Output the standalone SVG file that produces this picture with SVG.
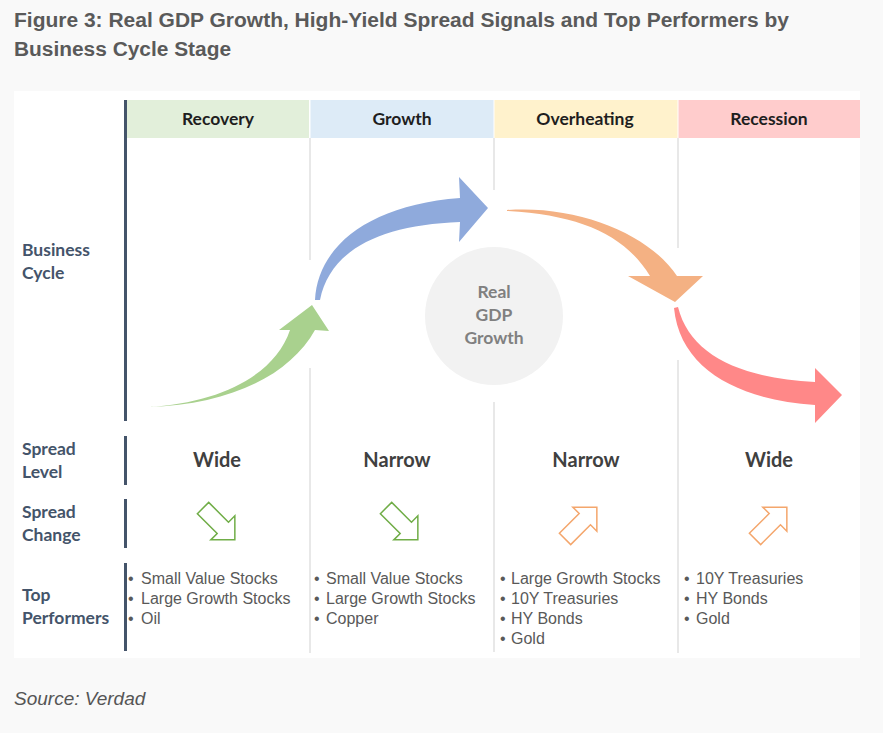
<svg xmlns="http://www.w3.org/2000/svg" width="883" height="733" viewBox="0 0 883 733">
<style>
.title{font-family:"Liberation Sans",Arial,sans-serif;font-weight:bold;font-size:20px;fill:#5a5a5a}
.hdr{font-family:Lato,"Open Sans",sans-serif;font-weight:bold;font-size:17.5px;fill:#1e1e1e;text-anchor:middle}
.row{font-family:Lato,"Open Sans",sans-serif;font-weight:bold;font-size:17.5px;fill:#44546a}
.lvl{font-family:Lato,"Open Sans",sans-serif;font-weight:bold;font-size:20px;fill:#404040;text-anchor:middle}
.gdp{font-family:Lato,"Open Sans",sans-serif;font-weight:bold;font-size:17.5px;fill:#808080;text-anchor:middle}
.item{font-family:"Liberation Sans",Arial,sans-serif;font-size:16px;fill:#595959}
.src{font-family:"Liberation Sans",Arial,sans-serif;font-style:italic;font-size:19px;fill:#555}
.div{stroke:#d9d9d9;stroke-width:1.2;fill:none}
.bar{stroke:#44546a;stroke-width:3;fill:none}
.up{fill:none;stroke:#f4a66c;stroke-width:1.5;stroke-linejoin:miter}
.dn{fill:none;stroke:#70ad47;stroke-width:1.5;stroke-linejoin:miter}
</style>
<defs>
<polygon id="blk" points="-24,-8 4,-8 4,-17 21,0 4,17 4,8 -24,8"/>
</defs>
<rect x="0" y="0" width="883" height="733" fill="#f9f9f9"/>
<text class="title" x="14" y="27" textLength="775" lengthAdjust="spacingAndGlyphs">Figure 3: Real GDP Growth, High-Yield Spread Signals and Top Performers by</text>
<text class="title" x="14" y="56" textLength="217" lengthAdjust="spacingAndGlyphs">Business Cycle Stage</text>
<rect x="14" y="91" width="846" height="567" fill="#ffffff"/>

<g id="headers">
<g id="h-recovery"><rect x="127" y="100" width="182" height="38" fill="#e2efda"/><text class="hdr" x="218" y="125">Recovery</text></g>
<g id="h-growth"><rect x="310.5" y="100" width="183" height="38" fill="#ddebf7"/><text class="hdr" x="402" y="125">Growth</text></g>
<g id="h-overheating"><rect x="494.5" y="100" width="183" height="38" fill="#fff2cc"/><text class="hdr" x="585" y="125">Overheating</text></g>
<g id="h-recession"><rect x="678.5" y="100" width="181.5" height="38" fill="#ffcccc"/><text class="hdr" x="769" y="125">Recession</text></g>
</g>

<g id="grid">
<path class="div" d="M310,138V260M310,368V653M494,138V190M494,402V652M678,138V248M678,360V653"/>
<path class="bar" d="M125.5,100V421M125.5,436V485M125.5,499V548M125.5,563V651"/>
</g>

<g id="row-labels">
<text class="row" x="22" y="256">Business</text><text class="row" x="22" y="279">Cycle</text>
<text class="row" x="22" y="455">Spread</text><text class="row" x="22" y="478">Level</text>
<text class="row" x="22" y="518">Spread</text><text class="row" x="22" y="541">Change</text>
<text class="row" x="22" y="601">Top</text><text class="row" x="22" y="624">Performers</text>
</g>

<g id="gdp">
<circle cx="494" cy="316" r="69" fill="#f2f2f2"/>
<text class="gdp" x="494" y="298">Real</text>
<text class="gdp" x="494" y="321">GDP</text>
<text class="gdp" x="494" y="344">Growth</text>
</g>

<g id="connectors">
<path id="a-recovery" fill="#a9d18e" d="M148,407 C230,405 290,375 315,330 L329,331 L312,305 L279,330 L290,330 C275,375 220,403 148,407 Z"/>
<path id="a-growth" fill="#8faadc" d="M315,300 C318,245 370,205 460,198 L459,177 L488,208 L459,242 L460,222 C380,225 330,250 320,300 Z"/>
<path id="a-overheating" fill="#f4b183" d="M507,210 C580,205 650,235 677,276 L703,276 L675,302 L628,276 L650,276 C625,235 580,215 507,211 Z"/>
<path id="a-recession" fill="#ff8888" d="M674,308 C680,370 740,400 815,405 L815,423 L842,395 L815,368 L815,382 C740,378 690,355 678,307 Z"/>
</g>

<g id="spread-level">
<text class="lvl" x="217" y="467">Wide</text>
<text class="lvl" x="397" y="467">Narrow</text>
<text class="lvl" x="586" y="467">Narrow</text>
<text class="lvl" x="769" y="467">Wide</text>
</g>

<g id="spread-change">
<use href="#blk" class="dn" transform="translate(220,525) rotate(45)"/>
<use href="#blk" class="dn" transform="translate(403,525) rotate(45)"/>
<use href="#blk" class="up" transform="translate(582,522) rotate(-45)"/>
<use href="#blk" class="up" transform="translate(772,522) rotate(-45)"/>
</g>

<g id="top-performers">
<g id="tp-recovery">
<text class="item" x="128" y="584">•<tspan x="141">Small Value Stocks</tspan></text>
<text class="item" x="128" y="604">•<tspan x="141">Large Growth Stocks</tspan></text>
<text class="item" x="128" y="624">•<tspan x="141">Oil</tspan></text>
</g>
<g id="tp-growth">
<text class="item" x="314" y="584">•<tspan x="326">Small Value Stocks</tspan></text>
<text class="item" x="314" y="604">•<tspan x="326">Large Growth Stocks</tspan></text>
<text class="item" x="314" y="624">•<tspan x="326">Copper</tspan></text>
</g>
<g id="tp-overheating">
<text class="item" x="500" y="584">•<tspan x="511">Large Growth Stocks</tspan></text>
<text class="item" x="500" y="604">•<tspan x="511">10Y Treasuries</tspan></text>
<text class="item" x="500" y="624">•<tspan x="511">HY Bonds</tspan></text>
<text class="item" x="500" y="644">•<tspan x="511">Gold</tspan></text>
</g>
<g id="tp-recession">
<text class="item" x="684" y="584">•<tspan x="696">10Y Treasuries</tspan></text>
<text class="item" x="684" y="604">•<tspan x="696">HY Bonds</tspan></text>
<text class="item" x="684" y="624">•<tspan x="696">Gold</tspan></text>
</g>
</g>

<text class="src" x="14" y="705">Source: Verdad</text>
</svg>
